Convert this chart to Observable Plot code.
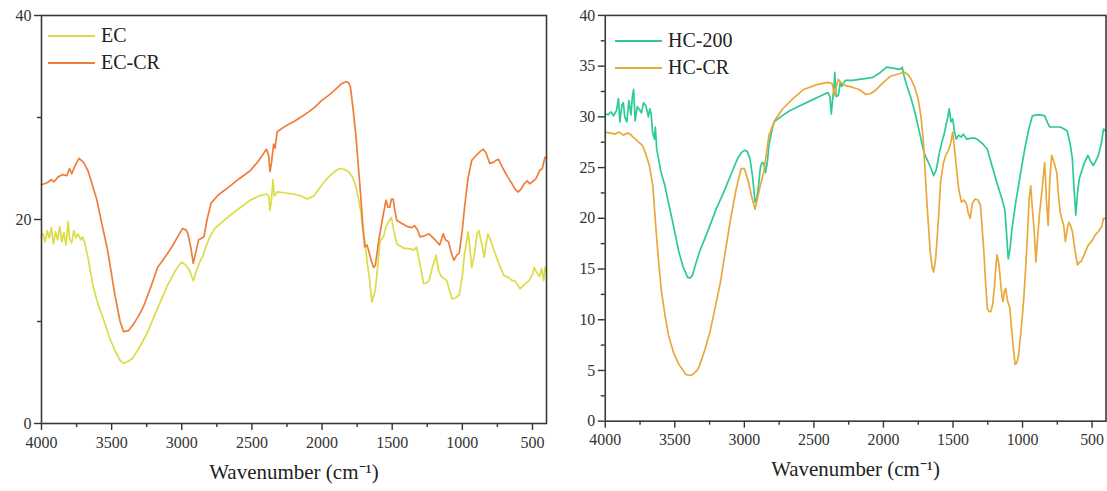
<!DOCTYPE html>
<html>
<head>
<meta charset="utf-8">
<script src="https://cdn.jsdelivr.net/npm/d3@7"></script>
<script src="https://cdn.jsdelivr.net/npm/@observablehq/plot@0.6"></script>
<style>
  html, body { margin: 0; padding: 0; background: #fff; }
  #wrap { position: relative; width: 1107px; height: 491px; overflow: hidden; display: flex; }
  #left { width: 560px; height: 491px; flex: none; position: relative; }
  #right { width: 547px; height: 491px; flex: none; position: relative; overflow: hidden; }
  svg text { font-family: "Liberation Serif", "Times New Roman", serif; }
  .legend { position: absolute; font-family: "Liberation Serif", "Times New Roman", serif; font-size: 20px; color: #222; line-height: 27px; }
  .legend .row { display: flex; align-items: center; height: 27px; }
  .legend .sw { width: 47px; height: 2px; margin-right: 6px; }
</style>
</head>
<body>
<div id="wrap">
  <div id="left"></div>
  <div id="right"></div>
</div>
<script>
// ---------- data ----------
const ecW = [4000,3990,3975,3960,3945,3930,3915,3900,3885,3870,3855,3840,3825,3810,3800,3785,3770,3755,3740,3720,3707,3690,3669,3650,3631,3600,3555,3520,3478,3440,3415,3380,3351,3300,3249,3200,3147,3100,3045,3010,2995,2970,2944,2918,2895,2867,2850,2829,2800,2766,2700,2638,2570,2511,2450,2396,2380,2371,2360,2350,2340,2320,2260,2205,2150,2104,2060,2027,1990,1951,1910,1875,1840,1811,1785,1760,1740,1722,1710,1696,1680,1665,1658,1645,1635,1620,1600,1590,1582,1560,1544,1525,1506,1490,1467,1420,1365,1345,1327,1300,1276,1255,1238,1210,1187,1170,1149,1130,1111,1090,1073,1050,1022,1000,984,958,945,933,915,895,882,860,844,830,818,800,767,735,703,670,645,627,605,589,560,525,500,487,470,449,435,420,411,400];
const ecV = [18.4,18.6,17.8,18.9,18.2,19.2,17.6,18.8,18.0,19.3,17.8,18.7,17.5,19.8,18.1,17.7,18.9,18.2,18.6,18.0,18.3,17.6,16.3,14.8,13.4,11.8,10.1,8.6,7.2,6.2,5.9,6.1,6.4,7.5,8.8,10.4,12.1,13.6,15.0,15.7,15.8,15.5,15.0,14.0,15.0,16.0,16.4,17.3,18.3,19.1,19.9,20.6,21.3,21.9,22.3,22.5,22.3,20.9,22.0,23.9,22.3,22.7,22.6,22.5,22.3,22.0,22.3,22.9,23.6,24.2,24.7,25.0,24.9,24.7,24.2,23.3,22.0,20.6,19.0,18.0,16.0,14.5,13.7,11.9,12.4,13.1,15.8,17.5,18.0,18.4,19.3,19.8,20.2,19.0,17.6,17.2,17.1,17.0,17.3,15.5,13.7,13.8,14.0,15.5,16.5,15.0,14.4,14.2,14.0,13.0,12.2,12.3,12.6,14.5,16.7,18.8,17.0,15.3,16.5,18.6,18.9,17.5,16.3,17.6,18.6,18.0,16.7,15.5,14.5,14.3,14.0,14.0,13.6,13.2,13.6,14.0,14.6,15.3,14.8,14.4,15.2,14.0,15.3,14.8];

const eccrW = [4000,3960,3930,3911,3880,3850,3820,3800,3784,3760,3733,3700,3669,3640,3605,3570,3529,3478,3440,3415,3380,3351,3310,3275,3220,3173,3120,3071,3030,2995,2970,2956,2935,2918,2900,2880,2842,2820,2791,2740,2664,2590,2511,2450,2396,2380,2371,2360,2345,2335,2320,2256,2200,2155,2100,2053,2000,1951,1900,1862,1829,1810,1798,1780,1760,1740,1722,1710,1696,1680,1671,1650,1633,1620,1595,1570,1544,1530,1518,1505,1493,1480,1467,1430,1391,1360,1340,1320,1302,1270,1238,1200,1175,1162,1150,1136,1120,1098,1080,1060,1040,1022,1000,984,960,933,900,870,850,830,805,780,760,742,710,678,650,620,601,580,560,538,520,500,475,449,430,411,400];
const eccrV = [23.4,23.6,23.9,23.7,24.2,24.4,24.3,25.0,24.5,25.3,26.0,25.6,24.8,23.5,21.9,19.6,17.0,12.7,10.0,9.0,9.1,9.6,10.5,11.4,13.4,15.3,16.3,17.3,18.3,19.1,19.0,18.6,17.2,15.7,16.8,18.0,18.3,20.0,21.6,22.4,23.2,24.0,24.8,25.8,26.9,26.2,24.7,25.6,27.4,27.0,28.6,29.2,29.6,30.0,30.5,31.0,31.7,32.2,32.8,33.3,33.5,33.4,33.0,31.0,28.4,25.0,21.9,19.5,17.3,17.5,17.1,16.0,15.3,15.5,18.0,20.0,21.9,21.2,21.2,22.0,22.0,20.8,19.9,19.6,19.3,19.2,19.4,19.0,18.3,18.4,18.6,18.1,17.7,17.5,18.0,18.6,18.0,17.8,16.8,16.0,16.5,16.7,19.0,21.2,24.0,25.8,26.3,26.7,26.9,26.5,25.5,25.6,25.8,25.9,25.0,24.2,23.6,22.9,22.7,23.0,23.5,23.8,23.5,23.7,24.0,24.8,25.0,26.1,26.0];

const hcW = [4000,3980,3960,3940,3920,3905,3895,3880,3870,3860,3845,3830,3815,3805,3796,3785,3770,3758,3740,3725,3708,3690,3680,3671,3660,3646,3640,3630,3621,3600,3571,3545,3521,3495,3471,3440,3409,3390,3372,3350,3322,3290,3247,3200,3147,3100,3048,3020,2998,2980,2960,2940,2923,2910,2898,2885,2873,2860,2848,2835,2823,2800,2786,2730,2674,2600,2524,2460,2400,2385,2375,2365,2355,2350,2340,2325,2310,2300,2275,2220,2175,2120,2076,2030,1976,1930,1900,1876,1865,1851,1830,1801,1775,1751,1730,1714,1700,1677,1660,1639,1620,1602,1580,1560,1552,1540,1527,1515,1502,1490,1477,1460,1440,1427,1400,1370,1340,1328,1290,1253,1220,1178,1150,1128,1115,1103,1090,1078,1050,1029,1000,979,955,929,900,870,841,820,804,770,729,700,679,660,642,630,617,605,592,560,530,510,492,475,455,435,418,400];
const hcV = [30.3,30.2,30.5,30.1,30.6,31.8,29.5,31.2,31.4,30.0,29.5,31.6,30.2,32.0,32.7,29.6,31.0,30.8,30.4,31.4,31.1,30.0,30.8,30.4,28.5,27.8,29.0,26.8,26.2,24.6,23.2,21.5,20.0,18.3,16.7,15.2,14.2,14.1,14.4,15.5,16.7,17.8,19.3,21.0,22.6,24.2,25.9,26.5,26.7,26.6,25.9,24.0,21.6,22.0,23.2,25.0,25.5,25.4,24.5,25.5,27.2,28.8,29.5,30.1,30.6,31.1,31.6,32.0,32.4,32.0,30.3,31.8,33.0,34.4,32.0,32.1,33.4,33.0,33.6,33.6,33.7,33.8,33.9,34.3,34.9,34.8,34.7,34.7,34.9,34.0,33.0,31.8,30.5,29.1,27.8,26.8,26.2,25.5,25.0,24.2,24.8,26.2,27.5,28.5,29.1,29.8,30.8,29.5,29.8,28.6,27.8,28.2,28.0,28.3,27.8,27.9,27.9,27.8,27.4,26.8,25.2,23.2,22.0,20.9,18.5,16.0,17.0,18.7,21.5,23.2,25.6,27.2,28.8,30.1,30.2,30.2,30.1,29.4,29.0,29.0,29.0,28.8,28.6,27.5,25.9,23.0,20.3,22.5,23.9,25.3,26.2,25.6,25.2,25.6,26.2,27.3,28.8,28.6];

const hccrW = [4000,3960,3930,3900,3870,3840,3821,3800,3783,3760,3733,3710,3683,3658,3634,3615,3596,3570,3546,3510,3471,3420,3390,3372,3340,3322,3285,3247,3210,3172,3135,3098,3060,3023,3000,2973,2945,2923,2905,2886,2861,2840,2823,2780,2724,2650,2574,2474,2400,2370,2350,2338,2325,2300,2275,2220,2175,2125,2090,2051,2000,1951,1900,1851,1825,1801,1775,1751,1730,1714,1700,1689,1675,1664,1650,1639,1625,1614,1600,1589,1570,1552,1530,1515,1502,1490,1477,1460,1440,1420,1403,1390,1377,1360,1340,1320,1303,1290,1278,1265,1253,1240,1228,1215,1203,1190,1183,1170,1158,1148,1141,1130,1121,1110,1091,1078,1066,1053,1040,1029,1010,991,978,966,952,941,930,916,904,892,879,866,854,841,835,829,816,805,791,775,754,740,729,715,704,692,680,667,655,642,625,605,590,580,560,530,500,480,455,430,418,400];
const hccrV = [28.5,28.4,28.3,28.5,28.2,28.4,28.3,28.0,27.8,27.5,27.2,26.4,25.2,23.2,18.7,15.5,12.8,10.4,8.5,6.8,5.6,4.6,4.5,4.6,5.0,5.5,7.0,8.8,11.2,13.7,16.9,20.0,22.8,24.9,24.9,23.7,22.0,20.9,22.0,23.2,24.5,26.5,28.2,29.7,30.8,31.8,32.7,33.2,33.4,33.3,32.1,33.0,33.7,33.3,33.1,32.9,32.7,32.2,32.3,32.7,33.4,34.0,34.2,34.4,34.2,33.7,32.9,31.8,30.0,27.8,24.5,21.9,19.0,16.7,15.2,14.7,16.0,18.0,21.0,23.6,25.4,26.2,26.8,27.5,28.5,27.0,25.2,23.0,21.6,21.8,21.4,20.5,20.0,21.5,21.9,21.8,21.3,19.0,16.7,13.5,11.1,10.8,10.8,11.5,13.1,15.5,16.4,15.5,13.7,12.3,11.8,12.8,13.1,12.0,11.1,9.0,7.2,5.6,5.8,6.5,9.0,12.1,15.0,18.0,22.0,23.2,21.0,18.7,15.7,18.0,20.3,22.0,23.6,25.5,24.0,21.9,19.3,23.5,26.2,25.6,24.5,22.0,20.6,19.8,19.3,17.7,18.9,19.6,19.3,18.7,17.0,15.4,15.7,15.7,16.3,17.3,17.8,18.3,18.7,19.2,20.0,20.0];

const xMajor = [4000, 3500, 3000, 2500, 2000, 1500, 1000, 500];
const xMinor = [3750, 3250, 2750, 2250, 1750, 1250, 750];
const yMajorLeft = [0, 20, 40];
const yMinorLeft = [10, 30];
const yMajorRight = [0, 5, 10, 15, 20, 25, 30, 35, 40];
const yMinorRight = [2.5, 7.5, 12.5, 17.5, 22.5, 27.5, 32.5, 37.5];

const seriesLeft = ["EC", "EC-CR"];
const seriesRight = ["HC-200", "HC-CR"];
const colorsLeft = ["#dcdc48", "#ef7d3b"];
const colorsRight = ["#2ccb92", "#e8a83c"];
const xLabel = "Wavenumber (cm⁻¹)";

function rows(w, v, s) { return w.map((x, i) => ({ w: x, v: v[i], s })); }

const dataLeft = [rows(ecW, ecV, "EC"), rows(eccrW, eccrV, "EC-CR")];
const dataRight = [rows(hcW, hcV, "HC-200"), rows(hccrW, hccrV, "HC-CR")];

const font = "Liberation Serif";

function panel({ width, marginLeft, marginRight, data, colors, yMajor, yMinor }) {
  const tickText = { fontFamily: font, fontSize: 16, fill: "#333" };
  return Plot.plot({
    width, height: 491,
    marginLeft, marginRight, marginTop: 15, marginBottom: 68,
    x: { domain: [4000, 400] },
    y: { domain: [0, 40] },
    style: { fontFamily: font, fontSize: "16px", color: "#333", background: "white", overflow: "visible" },
    marks: [
      Plot.axisX({ ticks: xMajor, tickSize: 7, tickPadding: 6, tickFormat: d => String(d), label: null, strokeWidth: 1.4, ...tickText }),
      Plot.axisX({ ticks: xMinor, tickSize: 4, text: null, label: null, strokeWidth: 1.4 }),
      Plot.axisY({ ticks: yMajor, tickSize: 7, tickPadding: 3, tickFormat: d => String(d), label: null, strokeWidth: 1.4, ...tickText }),
      Plot.axisY({ ticks: yMinor, tickSize: 4, text: null, label: null, strokeWidth: 1.4 }),
      ...data.map((d, i) => Plot.line(d, { x: "w", y: "v", stroke: colors[i], strokeWidth: 1.7, curve: "linear" })),
      Plot.frame({ stroke: "#3a3a3a", strokeWidth: 1.6 }),
      Plot.text([xLabel], { text: d => d, frameAnchor: "bottom", dy: 55, fontSize: 21, fontFamily: font, fill: "#222" })
    ]
  });
}

const left = panel({ width: 560, marginLeft: 41, marginRight: 14, data: dataLeft, colors: colorsLeft, yMajor: yMajorLeft, yMinor: yMinorLeft });
const right = panel({ width: 550, marginLeft: 45, marginRight: 1.5, data: dataRight, colors: colorsRight, yMajor: yMajorRight, yMinor: yMinorRight });

document.getElementById("left").appendChild(left);
document.getElementById("right").appendChild(right);

function legend(container, names, colors, left, top) {
  const div = document.createElement("div");
  div.className = "legend";
  div.style.left = left + "px";
  div.style.top = top + "px";
  names.forEach((n, i) => {
    const row = document.createElement("div");
    row.className = "row";
    const sw = document.createElement("span");
    sw.className = "sw";
    sw.style.background = colors[i];
    const t = document.createElement("span");
    t.textContent = n;
    row.appendChild(sw);
    row.appendChild(t);
    div.appendChild(row);
  });
  container.appendChild(div);
}
legend(document.getElementById("left"), seriesLeft, colorsLeft, 48, 22);
legend(document.getElementById("right"), seriesRight, colorsRight, 55, 27);
</script>
</body>
</html>
